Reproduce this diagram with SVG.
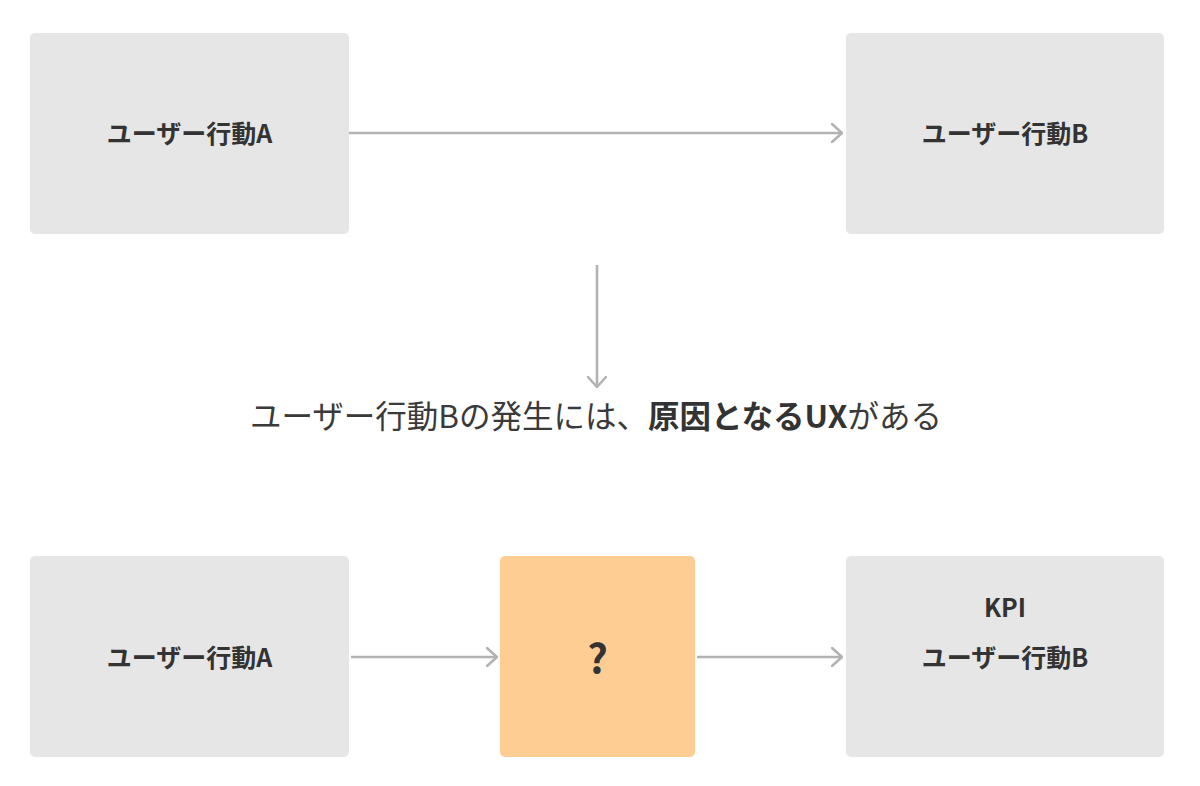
<svg xmlns="http://www.w3.org/2000/svg" width="1200" height="786" viewBox="0 0 1200 786">
<defs>
<marker id="chev" viewBox="0 0 12 20" refX="11" refY="10" markerWidth="12" markerHeight="20" markerUnits="userSpaceOnUse" orient="auto">
<path d="M1,1 L11,10 L1,19" fill="none" stroke="#b3b3b3" stroke-width="2.6" stroke-linecap="round" stroke-linejoin="round"/>
</marker>
<style>
.box{fill:#e6e6e6}
.q{fill:#fdcd93}
.lbl{font-family:"Noto Sans CJK JP","Noto Sans",sans-serif;font-weight:700;font-size:25px;fill:#333;text-anchor:middle}
.qm{font-size:40px}
.conn{fill:none;stroke:#b3b3b3;stroke-width:2.6;marker-end:url(#chev)}
.mid{font-family:"Noto Sans CJK JP","Noto Sans",sans-serif;font-size:31.5px;fill:#3a3a3a}
</style>
</defs>
<rect width="1200" height="786" fill="#fff"/>
<g id="connectors">
<line class="conn" x1="349" y1="133" x2="842" y2="133"/>
<line class="conn" x1="597" y1="265" x2="597" y2="387"/>
<line class="conn" x1="351" y1="657" x2="497" y2="657"/>
<line class="conn" x1="697" y1="657" x2="842" y2="657"/>
</g>
<g id="nodeA1"><rect class="box" x="30" y="33" width="319" height="201" rx="5"/><text class="lbl" x="189.5" y="143">ユーザー行動A</text></g>
<g id="nodeB1"><rect class="box" x="846" y="33" width="318" height="201" rx="5"/><text class="lbl" x="1005" y="143">ユーザー行動B</text></g>
<g id="statement"><text class="mid" x="596" y="428" text-anchor="middle">ユーザー行動Bの発生には、<tspan font-weight="700" fill="#333">原因となるUX</tspan>がある</text></g>
<g id="nodeA2"><rect class="box" x="30" y="556" width="319" height="201" rx="5"/><text class="lbl" x="189.5" y="667">ユーザー行動A</text></g>
<g id="nodeQ"><rect class="q" x="500" y="556" width="195" height="201" rx="5"/><text class="lbl qm" x="597.5" y="673">?</text></g>
<g id="nodeB2"><rect class="box" x="846" y="556" width="318" height="201" rx="5"/><text class="lbl" x="1005" y="617">KPI</text><text class="lbl" x="1005" y="667">ユーザー行動B</text></g>
</svg>
